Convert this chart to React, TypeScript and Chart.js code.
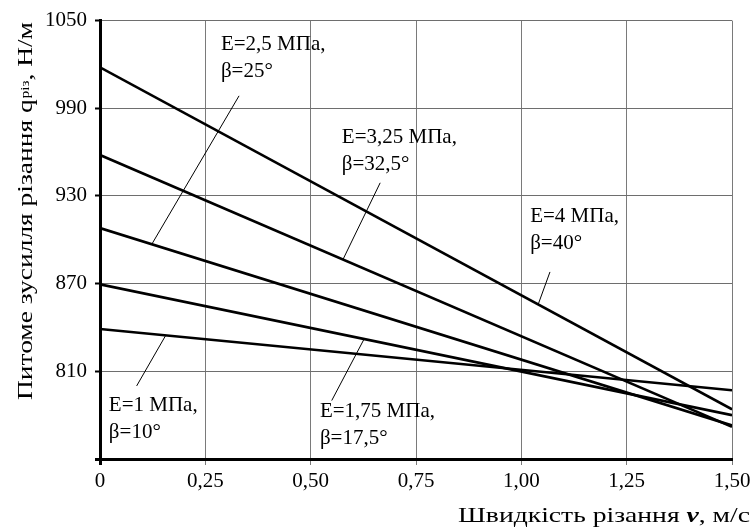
import React, { useEffect, useRef } from 'react';
import { Chart, registerables } from 'chart.js';

Chart.register(...registerables);

const FONT = "'Liberation Serif', 'Times New Roman', serif";

// Cutting speed v, m/s (straight lines between end points)
const speeds = [0, 1.5];
// Specific cutting force q, N/m
const qE1 = [839, 797];
const qE175 = [869.5, 780];
const qE25 = [908, 773];
const qE325 = [958, 772];
const qE4 = [1018, 784];

const seriesNames = [
  'E=1 МПа, β=10°',
  'E=1,75 МПа, β=17,5°',
  'E=2,5 МПа, β=25°',
  'E=3,25 МПа, β=32,5°',
  'E=4 МПа, β=40°',
];
const seriesValues = [qE1, qE175, qE25, qE325, qE4];

const xTickValues = [0, 0.25, 0.5, 0.75, 1.0, 1.25, 1.5];
const yTickValues = [750, 810, 870, 930, 990, 1050];

const labelLine1 = ['E=1 МПа,', 'E=1,75 МПа,', 'E=2,5 МПа,', 'E=3,25 МПа,', 'E=4 МПа,'];
const labelLine2 = ['β=10°', 'β=17,5°', 'β=25°', 'β=32,5°', 'β=40°'];

// annotation placement (data coordinates)
const annotations = [
  { tx: 0.021, ty: 783, x1: 0.156, y1: 834.6, x2: 0.087, y2: 800 },
  { tx: 0.522, ty: 779, x1: 0.627, y1: 832.2, x2: 0.55, y2: 790 },
  { tx: 0.287, ty: 1030, x1: 0.123, y1: 897, x2: 0.33, y2: 998.5 },
  { tx: 0.574, ty: 966, x1: 0.577, y1: 886.7, x2: 0.665, y2: 939 },
  { tx: 1.021, ty: 912, x1: 1.04, y1: 855.8, x2: 1.068, y2: 878 },
];

const fmtX = (v: number) => (v === 0 ? '0' : v.toFixed(2).replace('.', ','));

const drawPlugin = {
  id: 'customDraw',
  afterDatasetsDraw(chart: any) {
    const { ctx, scales } = chart;
    const xs = scales.x;
    const ys = scales.y;
    ctx.save();
    // leader lines
    ctx.strokeStyle = '#000';
    ctx.lineWidth = 1;
    annotations.forEach((a) => {
      ctx.beginPath();
      ctx.moveTo(xs.getPixelForValue(a.x1), ys.getPixelForValue(a.y1));
      ctx.lineTo(xs.getPixelForValue(a.x2), ys.getPixelForValue(a.y2));
      ctx.stroke();
    });
    // labels
    ctx.fillStyle = '#000';
    ctx.font = `21px ${FONT}`;
    ctx.textAlign = 'left';
    ctx.textBaseline = 'alphabetic';
    annotations.forEach((a, i) => {
      const px = xs.getPixelForValue(a.tx);
      const py = ys.getPixelForValue(a.ty);
      ctx.fillText(labelLine1[i], px, py);
      ctx.fillText(labelLine2[i], px, py + 27);
    });

    // x axis title
    {
      const left = 458;
      const right = 750;
      const base = 522;
      const p1 = 'Швидкість різання ';
      const p2 = 'v';
      const p3 = ', м/с';
      const f1 = `21px ${FONT}`;
      const f2 = `italic bold 21px ${FONT}`;
      ctx.font = f1;
      const w1 = ctx.measureText(p1).width;
      const w3 = ctx.measureText(p3).width;
      ctx.font = f2;
      const w2 = ctx.measureText(p2).width;
      const total = w1 + w2 + w3;
      const s = (right - left) / total;
      ctx.save();
      ctx.translate(left, base);
      ctx.scale(s, 1);
      ctx.font = f1;
      ctx.fillText(p1, 0, 0);
      ctx.font = f2;
      ctx.fillText(p2, w1, 0);
      ctx.font = f1;
      ctx.fillText(p3, w1 + w2, 0);
      ctx.restore();
    }

    // y axis title (rotated)
    {
      const bottom = 400;
      const top = 22;
      const baseX = 32;
      const p1 = 'Питоме зусилля різання q';
      const p2 = 'різ';
      const p3 = ', Н/м';
      const f1 = `22px ${FONT}`;
      const f2 = `12px ${FONT}`;
      ctx.font = f1;
      const w1 = ctx.measureText(p1).width;
      const w3 = ctx.measureText(p3).width;
      ctx.font = f2;
      const w2 = ctx.measureText(p2).width + 1;
      const total = w1 + w2 + w3;
      const s = (bottom - top) / total;
      ctx.save();
      ctx.translate(baseX, bottom);
      ctx.rotate(-Math.PI / 2);
      ctx.scale(s, 1);
      ctx.font = f1;
      ctx.fillText(p1, 0, 0);
      ctx.font = f2;
      ctx.fillText(p2, w1 + 1, -3);
      ctx.font = f1;
      ctx.fillText(p3, w1 + w2, 0);
      ctx.restore();
    }
    ctx.restore();
  },
};

export default function App() {
  const ref = useRef<HTMLCanvasElement | null>(null);
  useEffect(() => {
    if (!ref.current) return;
    const chart = new Chart(ref.current, {
      type: 'line',
      data: {
        datasets: seriesValues.map((vals, i) => ({
          label: seriesNames[i],
          data: speeds.map((v, j) => ({ x: v, y: vals[j] })),
          borderColor: '#000',
          borderWidth: 2.6,
          pointRadius: 0,
          tension: 0,
          fill: false,
        })),
      },
      options: {
        responsive: false,
        animation: false,
        layout: { padding: { top: 18, right: 23, left: 0, bottom: 0 } },
        plugins: { legend: { display: false }, tooltip: { enabled: false }, title: { display: false } },
        scales: {
          x: {
            type: 'linear',
            min: 0,
            max: 1.5,
            afterBuildTicks: (scale: any) => {
              scale.ticks = xTickValues.map((v) => ({ value: v }));
            },
            afterFit: (scale: any) => {
              scale.height = 71;
            },
            border: { display: true, color: '#000', width: 3 },
            grid: {
              color: '#7a7a7a',
              lineWidth: 1,
              drawTicks: true,
              tickLength: 6,
              tickColor: (c: any) => (c.index === 0 ? '#000' : '#7a7a7a'),
              tickWidth: (c: any) => (c.index === 0 ? 3 : 1),
            },
            ticks: {
              color: '#000',
              font: { family: FONT, size: 21 },
              padding: 4,
              maxRotation: 0,
              autoSkip: false,
              callback: (v: any) => fmtX(Number(v)),
            },
          },
          y: {
            type: 'linear',
            min: 750,
            max: 1050,
            afterBuildTicks: (scale: any) => {
              scale.ticks = yTickValues.map((v) => ({ value: v }));
            },
            afterFit: (scale: any) => {
              scale.width = 100;
            },
            border: { display: true, color: '#000', width: 3 },
            grid: {
              color: '#6e6e6e',
              lineWidth: 1,
              drawTicks: true,
              tickLength: 5,
              tickColor: '#000',
              tickWidth: (c: any) => (c.index === 0 ? 3 : 2),
            },
            ticks: {
              color: '#000',
              font: { family: FONT, size: 21 },
              padding: 8,
              autoSkip: false,
              callback: (v: any) => (Number(v) === 750 ? '' : String(v)),
            },
          },
        },
      },
      plugins: [drawPlugin],
    });
    return () => chart.destroy();
  }, []);
  return (
    <div style={{ position: 'absolute', left: 0, top: 0, width: 755, height: 530, background: '#fff' }}>
      <canvas ref={ref} width={755} height={530} style={{ display: 'block' }} />
    </div>
  );
}
